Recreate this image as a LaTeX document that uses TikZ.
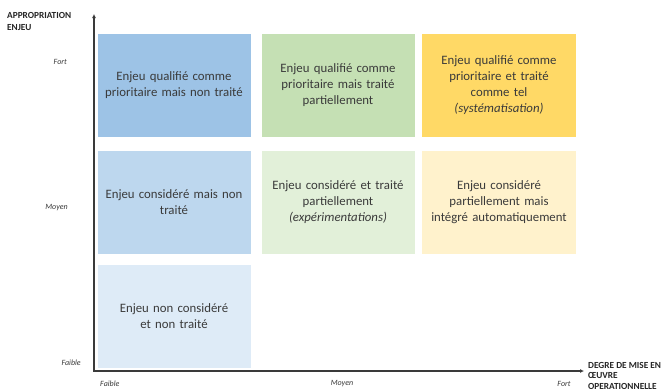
\documentclass[tikz,border=0pt]{standalone}
\usepackage{fontspec}
\setmainfont{Carlito}
\usetikzlibrary{arrows.meta}
\definecolor{tx}{HTML}{3A3A3A}
\definecolor{bA}{HTML}{9DC3E6}
\definecolor{bB}{HTML}{BDD7EE}
\definecolor{bC}{HTML}{DEEBF7}
\definecolor{gA}{HTML}{C5E0B4}
\definecolor{gB}{HTML}{E2F0D9}
\definecolor{oA}{HTML}{FFD966}
\definecolor{oB}{HTML}{FFF2CC}
\tikzset{
  cell/.style={minimum width=153pt, minimum height=103pt, inner sep=0pt, align=center, text=tx,
    font=\fontsize{12.8}{16}\selectfont, text width=150pt},
  tick/.style={text=tx, font=\fontsize{8}{9}\selectfont\itshape, inner sep=0pt},
  axlab/.style={text=black!85, font=\fontsize{9.3}{12}\selectfont\bfseries, inner sep=0pt, align=left},
  axis/.style={draw=tx, line width=1.3pt, -{Latex[length=4pt,width=4pt]}}
}
\begin{document}
\begin{tikzpicture}[x=1pt,y=-1pt]
\useasboundingbox (0,0) rectangle (664,389);
\fill[white] (0,0) rectangle (664,389);
% cells
\node[cell, fill=bA] (c11) at (174,85.5) {Enjeu qualifié comme\\prioritaire mais non traité};
\node[cell, fill=gA] (c21) at (338,85.5) {Enjeu qualifié comme\\prioritaire mais traité\\partiellement};
\node[cell, fill=oA, minimum width=154pt] (c31) at (499,85.5) {Enjeu qualifié comme\\prioritaire et traité\\comme tel\\\textit{(systématisation)}};
\node[cell, fill=bB] (c12) at (174,202) {Enjeu considéré mais non\\traité};
\node[cell, fill=gB] (c22) at (338,202) {Enjeu considéré et traité\\partiellement\\\textit{(expérimentations)}};
\node[cell, fill=oB, minimum width=154pt] (c32) at (499,202) {Enjeu considéré\\partiellement mais\\intégré automatiquement};
\node[cell, fill=bC] (c13) at (174,316) {Enjeu non considéré\\et non traité};
% axes
\coordinate (o) at (94,371);
\coordinate (ytop) at (94,14);
\coordinate (xend) at (584,371);
\draw[axis] (o) -- (ytop);
\draw[axis] ([xshift=-0.65pt]o) -- (xend);
% axis labels
\node[axlab, anchor=west] (ylab) at (7,21) {APPROPRIATION\\ENJEU};
\node[tick, anchor=east] (yf) at (67,62) {Fort};
\node[tick, anchor=east] (ym) at (68,208) {Moyen};
\node[tick, anchor=east] (yl) at (81,363) {Faible};
\node[tick, anchor=west] (xl) at (100,384) {Faible};
\node[tick] (xm) at (342,384) {Moyen};
\node[tick] (xf) at (564,384) {Fort};
\node[axlab, anchor=north west, font=\fontsize{9.3}{10.5}\selectfont\bfseries] (xlab) at (588,362) {DEGRE DE MISE EN\\ŒUVRE\\OPERATIONNELLE};
\end{tikzpicture}
\end{document}
